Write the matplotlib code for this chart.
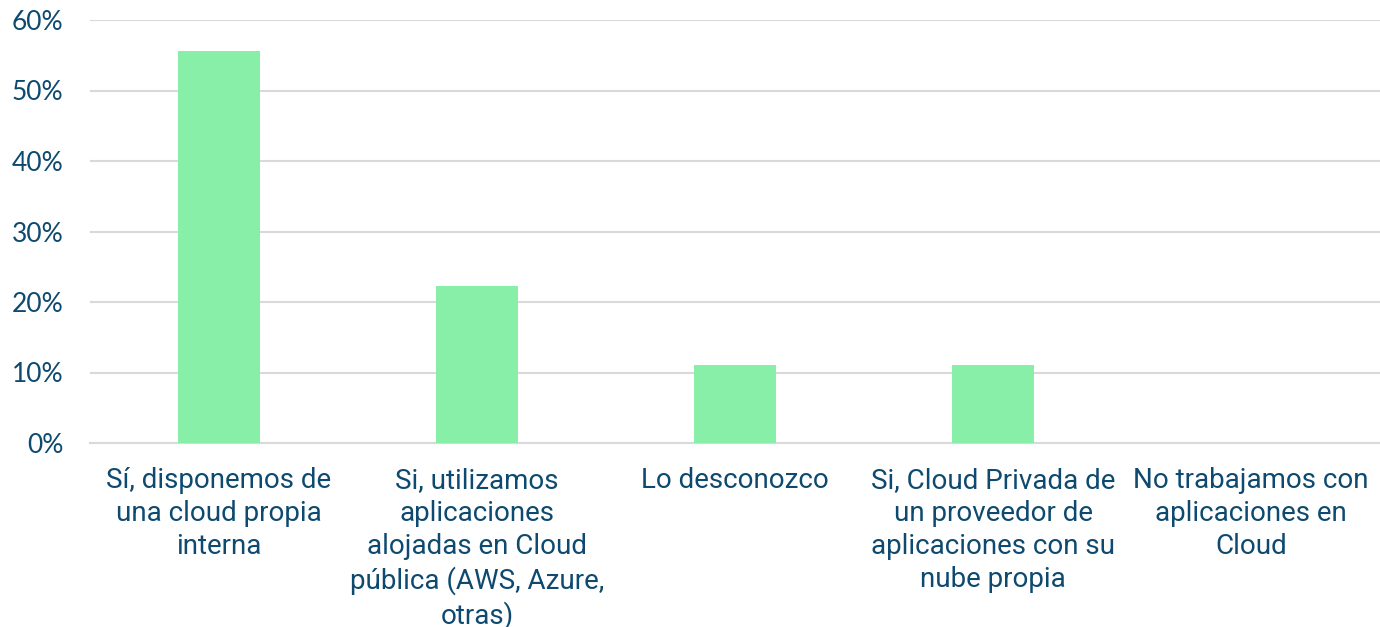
import matplotlib.pyplot as plt
from matplotlib.ticker import FuncFormatter

categories = [
    "Sí, disponemos de\nuna cloud propia\ninterna",
    "Si, utilizamos\naplicaciones\nalojadas en Cloud\npública (AWS, Azure,\notras)",
    "Lo desconozco",
    "Si, Cloud Privada de\nun proveedor de\naplicaciones con su\nnube propia",
    "No trabajamos con\naplicaciones en\nCloud",
]
values = [55.56, 22.22, 11.11, 11.11, 0.0]

text_color = "#0E4A70"
bar_color = "#88EFA8"
grid_color = "#D9D9D9"

fig = plt.figure(figsize=(13.8, 6.27), dpi=100)
ax = fig.add_axes([90 / 1380, 1 - 443 / 627, 1290 / 1380, 423 / 627])

x = range(len(categories))
ax.bar(x, values, width=0.315, color=bar_color, zorder=3)

ax.set_xlim(-0.5, len(categories) - 0.5)
ax.set_ylim(0, 60)
ax.set_yticks(range(0, 61, 10))
ax.yaxis.set_major_formatter(FuncFormatter(lambda v, p: f"{int(v)}%"))
ax.grid(axis="y", color=grid_color, linewidth=1.5, zorder=0)

for s in ["top", "right", "left"]:
    ax.spines[s].set_visible(False)
ax.spines["bottom"].set_color(grid_color)
ax.spines["bottom"].set_linewidth(1.5)

ax.tick_params(axis="both", length=0)
ax.tick_params(axis="x", pad=17.5)
ax.tick_params(axis="y", pad=19)

ax.set_xticks(list(x))
ax.set_xticklabels(categories, fontsize=20, family="Roboto", color=text_color,
                   linespacing=1.275, va="top")
for lbl in ax.get_yticklabels():
    lbl.set_fontsize(19)
    lbl.set_family("Lato")
    lbl.set_color(text_color)

fig.savefig("out.png", dpi=100)
